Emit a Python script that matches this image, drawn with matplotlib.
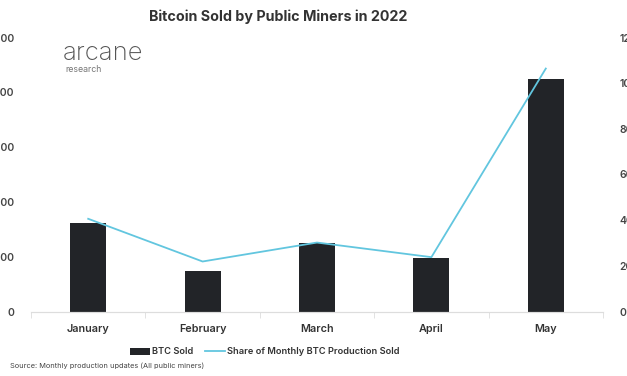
import matplotlib.pyplot as plt
import numpy as np

months = ['January', 'February', 'March', 'April', 'May']
btc_sold = [1620, 745, 1245, 970, 4240]
share_sold = [40.6, 21.9, 30.2, 23.8, 106.4]
left_ticks = [0, 1000, 2000, 3000, 4000, 5000]
right_ticks = [0, 20, 40, 60, 80, 100, 120]

plt.rcParams['font.family'] = ['Inter', 'DejaVu Sans']

fig = plt.figure(figsize=(6.27, 3.76), dpi=100)
ax = fig.add_axes([31/627, 1-311.5/376, 572/627, 274/376])
ax2 = ax.twinx()

x = np.arange(len(months))
bars = ax.bar(x, btc_sold, width=0.315, color='#222428', zorder=2)
line, = ax2.plot(x, share_sold, color='#62c6df', lw=1.3, zorder=3)

ax.set_xlim(-0.5, len(months) - 0.5)
ax.set_ylim(0, 5000)
ax2.set_ylim(0, 120)
ax.set_yticks(left_ticks)
ax.set_yticklabels([str(v) for v in left_ticks])
ax2.set_yticks(right_ticks)
ax2.set_yticklabels([f'{v}%' for v in right_ticks])

for a in (ax, ax2):
    for s in ['top', 'right', 'left']:
        a.spines[s].set_visible(False)
    a.spines['bottom'].set_color('#dddddd')
    a.tick_params(axis='y', length=0, pad=12, labelsize=7.5, labelcolor='#444444')
    for lbl in a.get_yticklabels():
        lbl.set_fontweight('semibold')

ax.set_xticks(x)
ax.set_xticklabels(months, fontsize=7.8, fontweight='semibold', color='#333333')
ax.tick_params(axis='x', length=0, pad=9)
# small separators between categories
ax.set_xticks(np.arange(-0.5, len(months) + 0.5, 1), minor=True)
ax.tick_params(axis='x', which='minor', length=4, color='#dddddd', direction='out')

fig.text(278/627, 1-17/376, 'Bitcoin Sold by Public Miners in 2022', ha='center', va='center',
         fontsize=10.3, fontweight='bold', color='#333333')

fig.text(63/627, 1-54/376, 'arcane', ha='left', va='center', fontsize=18.5,
         fontweight='light', color='#555555')
fig.text(65/627, 1-70/376, 'research', ha='left', va='center', fontsize=6.3,
         color='#777777')

leg = fig.legend([bars, line], ['BTC Sold', 'Share of Monthly BTC Production Sold'],
                 loc='center', bbox_to_anchor=(265/627, 1-352/376), ncol=2, frameon=False,
                 fontsize=6.7, handlelength=2.1, handleheight=0.8, columnspacing=1.3,
                 handletextpad=0.25)
for t in leg.get_texts():
    t.set_fontweight('semibold')
    t.set_color('#333333')

fig.text(10/627, 1-366/376, 'Source: Monthly production updates (All public miners)',
         ha='left', va='center', fontsize=5.3, color='#444444')

fig.savefig('out.png', dpi=100)
